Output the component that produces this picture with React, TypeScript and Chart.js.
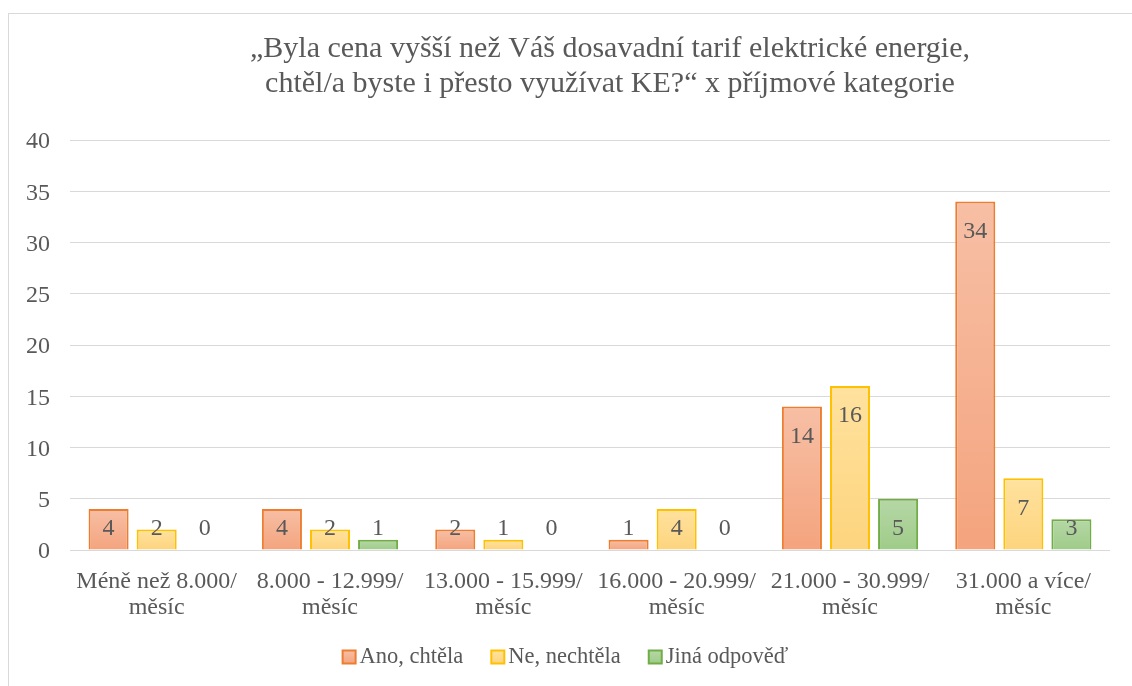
import React, { useEffect, useRef } from "react";
import { Chart, registerables } from "chart.js";

Chart.register(...registerables);

const titleLines = [
  "„Byla cena vyšší než Váš dosavadní tarif elektrické energie,",
  "chtěl/a byste i přesto využívat KE?“ x příjmové kategorie",
];
const categories = [
  ["Méně než 8.000/", "měsíc"],
  ["8.000 - 12.999/", "měsíc"],
  ["13.000 - 15.999/", "měsíc"],
  ["16.000 - 20.999/", "měsíc"],
  ["21.000 - 30.999/", "měsíc"],
  ["31.000 a více/", "měsíc"],
];
const seriesNames = ["Ano, chtěla", "Ne, nechtěla", "Jiná odpověď"];
const anoValues = [4, 4, 2, 1, 14, 34];
const neValues = [2, 2, 1, 4, 16, 7];
const jinaValues = [0, 1, 0, 0, 5, 3];

const FONT = "'Liberation Serif', 'Times New Roman', serif";
const TEXT = "#595959";

const borderColors = ["#ED7D31", "#FFC000", "#70AD47"];
const gradStops = [
  ["#F7BFA5", "#F4A47E"],
  ["#FFE29E", "#FDD47E"],
  ["#B6D7A6", "#9FCC89"],
];
const solid = ["#F5B190", "#FEDB8E", "#ABD297"];

function barFill(di: number) {
  return (c: any) => {
    try {
      if (c.type !== "data") return solid[di];
      const y = c.chart.scales.y;
      const top = y.getPixelForValue(c.parsed.y);
      const bot = y.getPixelForValue(0);
      if (!isFinite(top) || !isFinite(bot) || bot - top < 1) return solid[di];
      const g = c.chart.ctx.createLinearGradient(0, top, 0, bot);
      g.addColorStop(0, gradStops[di][0]);
      g.addColorStop(1, gradStops[di][1]);
      return g;
    } catch (e) {
      return solid[di];
    }
  };
}

const titlePlugin = {
  id: "customTitle",
  afterDraw(chart: any) {
    const ctx = chart.ctx;
    ctx.save();
    ctx.font = `30px ${FONT}`;
    ctx.fillStyle = TEXT;
    ctx.textAlign = "center";
    ctx.textBaseline = "middle";
    ctx.fillText(titleLines[0], 601, 35);
    ctx.fillText(titleLines[1], 601, 70);
    ctx.restore();
  },
};

const legendPlugin = {
  id: "customLegend",
  afterDraw(chart: any) {
    const ctx = chart.ctx;
    ctx.save();
    ctx.font = `22.5px ${FONT}`;
    ctx.textBaseline = "middle";
    ctx.textAlign = "left";
    const box = 13;
    const gapBoxText = 4;
    const gapItems = 28;
    const widths = seriesNames.map((n) => ctx.measureText(n).width);
    const total =
      widths.reduce((a, w) => a + box + gapBoxText + w, 0) + gapItems * (seriesNames.length - 1);
    let x = 556.5 - total / 2;
    const cy = 643;
    seriesNames.forEach((name, i) => {
      const g = ctx.createLinearGradient(0, cy - box / 2, 0, cy + box / 2);
      g.addColorStop(0, gradStops[i][0]);
      g.addColorStop(1, gradStops[i][1]);
      ctx.fillStyle = g;
      ctx.fillRect(x, cy - box / 2, box, box);
      ctx.strokeStyle = borderColors[i];
      ctx.lineWidth = 2;
      ctx.strokeRect(x, cy - box / 2, box, box);
      ctx.fillStyle = TEXT;
      ctx.fillText(name, x + box + gapBoxText, cy);
      x += box + gapBoxText + widths[i] + gapItems;
    });
    ctx.restore();
  },
};

const labelPlugin = {
  id: "valueLabels",
  afterDatasetsDraw(chart: any) {
    const ctx = chart.ctx;
    ctx.save();
    ctx.font = `24px ${FONT}`;
    ctx.fillStyle = TEXT;
    ctx.textAlign = "center";
    ctx.textBaseline = "middle";
    chart.data.datasets.forEach((ds: any, di: number) => {
      const meta = chart.getDatasetMeta(di);
      meta.data.forEach((el: any, i: number) => {
        const v = ds.data[i];
        const y = Math.min(el.y + 30, el.base - 21);
        ctx.fillText(String(v), el.x, y);
      });
    });
    ctx.restore();
  },
};

export default function App() {
  const ref = useRef<HTMLCanvasElement>(null);
  useEffect(() => {
    if (!ref.current) return;
    const chart = new Chart(ref.current, {
      type: "bar",
      data: {
        labels: categories,
        datasets: [
          { label: seriesNames[0], data: anoValues, backgroundColor: barFill(0), borderColor: borderColors[0], borderWidth: 2 },
          { label: seriesNames[1], data: neValues, backgroundColor: barFill(1), borderColor: borderColors[1], borderWidth: 2 },
          { label: seriesNames[2], data: jinaValues, backgroundColor: barFill(2), borderColor: borderColors[2], borderWidth: 2 },
        ],
      },
      options: {
        animation: false,
        responsive: false,
        maintainAspectRatio: false,
        datasets: { bar: { barPercentage: 0.833, categoryPercentage: 0.832 } },
        layout: { padding: { left: 0, right: 22, top: 126, bottom: 64 } },
        plugins: {
          title: { display: false },
          legend: { display: false },
          tooltip: { enabled: false },
        },
        scales: {
          x: {
            afterFit(scale: any) {
              scale.height = 72;
            },
            grid: { display: false },
            border: { display: false },
            ticks: {
              color: TEXT,
              font: { family: FONT, size: 24, lineHeight: 1.08 },
              padding: 11,
              maxRotation: 0,
              autoSkip: false,
            },
          },
          y: {
            min: 0,
            max: 40,
            afterFit(scale: any) {
              scale.width = 61;
            },
            grid: { color: "#D9D9D9", lineWidth: 1, drawTicks: false },
            border: { display: false },
            ticks: {
              stepSize: 5,
              color: TEXT,
              font: { family: FONT, size: 24 },
              padding: 20,
              labelOffset: 2,
            },
          },
        },
      },
      plugins: [labelPlugin, titlePlugin, legendPlugin],
    });
    return () => chart.destroy();
  }, []);
  return (
    <div
      style={{
        position: "fixed",
        left: 8,
        top: 13,
        width: 1124,
        height: 673,
        borderLeft: "1px solid #D9D9D9",
        borderTop: "1px solid #D9D9D9",
        background: "#fff",
      }}
    >
      <canvas ref={ref} width={1123} height={672} style={{ display: "block", width: 1123, height: 672 }} />
    </div>
  );
}
